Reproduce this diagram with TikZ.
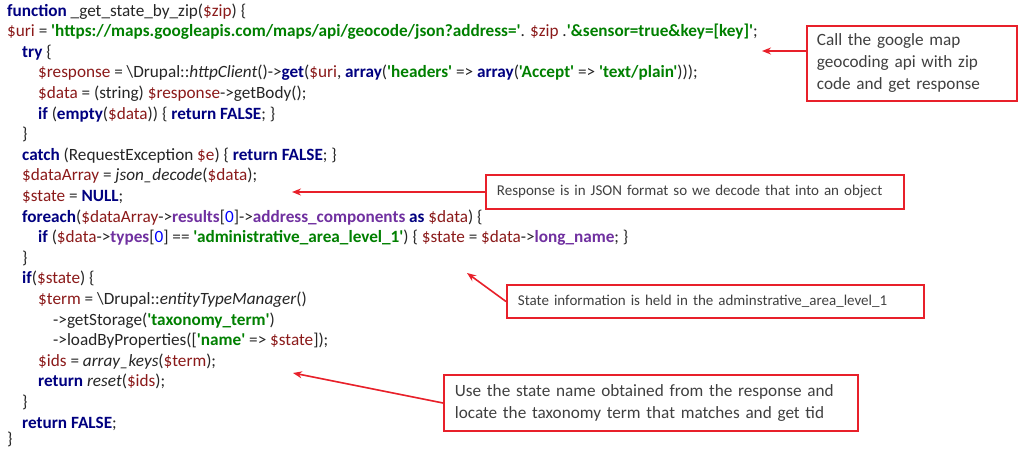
\documentclass[tikz,border=0pt]{standalone}
\usepackage{fontspec}
\newfontfamily\codefont{Carlito}
\usetikzlibrary{arrows.meta}
\definecolor{kwc}{HTML}{000080}
\definecolor{vrc}{HTML}{8B1A1A}
\definecolor{stc}{HTML}{008000}
\definecolor{prc}{HTML}{7030A0}
\definecolor{nmc}{HTML}{0000FF}
\definecolor{txc}{HTML}{262626}
\definecolor{boxred}{HTML}{E8202A}
\definecolor{notec}{HTML}{404040}
\newcommand\kw[1]{\textcolor{kwc}{\bfseries #1}}
\newcommand\vr[1]{\textcolor{vrc}{\$#1}}
\newcommand\st[1]{\textcolor{stc}{\bfseries #1}}
\newcommand\pr[1]{\textcolor{prc}{\bfseries #1}}
\newcommand\nm[1]{\textcolor{nmc}{#1}}
\newcommand\bs{\textbackslash}
\tikzset{
 code/.style={anchor=base west,inner sep=0pt,font=\codefont\fontsize{17.2}{20}\selectfont,text=txc},
 note/.style={draw=boxred,line width=1.8pt,text=notec,font=\codefont\fontsize{15}{20}\selectfont,align=left,anchor=north west,inner sep=0pt},
 bignote/.style={note,font=\codefont\fontsize{17.2}{22}\selectfont},
 arr/.style={draw=boxred,line width=1.6pt,-{Stealth[length=9pt,width=7pt]}}
}
\begin{document}
\begin{tikzpicture}[x=1pt,y=-1pt]
\useasboundingbox (0,0) rectangle (1024,453);
\fill[white] (0,0) rectangle (1024,453);
\def\L#1{\fpeval{16+20.6*#1}}
\node[code] (l0) at (7,\L0) {\kw{function} \_get\_state\_by\_zip(\vr{zip}) \{};
\node[code] (l1) at (7,\L1) {\vr{uri} = \st{'https://maps.googleapis.com/maps/api/geocode/json?address='}. \vr{zip} .\st{'\&sensor=true\&key=[key]'};};
\node[code] (l2) at (22,\L2) {\kw{try} \{};
\node[code] (l3) at (38,\L3) {\vr{response} = \bs Drupal::\textit{httpClient}()->\kw{get}(\vr{uri}, \kw{array}(\st{'headers'} => \kw{array}(\st{'Accept'} => \st{'text/plain'})));};
\node[code] (l4) at (38,\L4) {\vr{data} = (string) \vr{response}->getBody();};
\node[code] (l5) at (38,\L5) {\kw{if} (\kw{empty}(\vr{data})) \{ \kw{return FALSE}; \}};
\node[code] (l6) at (22,\L6) {\}};
\node[code] (l7) at (22,\L7) {\kw{catch} (RequestException \vr{e}) \{ \kw{return FALSE}; \}};
\node[code] (l8) at (22,\L8) {\vr{dataArray} = \textit{json\_decode}(\vr{data});};
\node[code] (l9) at (22,\L9) {\vr{state} = \kw{NULL};};
\node[code] (l10) at (22,\L{10}) {\kw{foreach}(\vr{dataArray}->\pr{results}[\nm{0}]->\pr{address\_components} \kw{as} \vr{data}) \{};
\node[code] (l11) at (38,\L{11}) {\kw{if} (\vr{data}->\pr{types}[\nm{0}] == \st{'administrative\_area\_level\_1'}) \{ \vr{state} = \vr{data}->\pr{long\_name}; \}};
\node[code] (l12) at (22,\L{12}) {\}};
\node[code] (l13) at (22,\L{13}) {\kw{if}(\vr{state}) \{};
\node[code] (l14) at (38,\L{14}) {\vr{term} = \bs Drupal::\textit{entityTypeManager}()};
\node[code] (l15) at (53,\L{15}) {->getStorage(\st{'taxonomy\_term'})};
\node[code] (l16) at (53,\L{16}) {->loadByProperties([\st{'name'} => \vr{state}]);};
\node[code] (l17) at (38,\L{17}) {\vr{ids} = \textit{array\_keys}(\vr{term});};
\node[code] (l18) at (38,\L{18}) {\kw{return} \textit{reset}(\vr{ids});};
\node[code] (l19) at (22,\L{19}) {\}};
\node[code] (l20) at (22,\L{20}) {\kw{return FALSE};};
\node[code] (l21) at (7,\L{20.8}) {\}};
% notes
\node[bignote,minimum width=209pt,minimum height=75pt,text width=190pt,inner xsep=10pt,inner ysep=4pt] (n1) at (806,25) {Call the google map\\geocoding api with zip\\code and get response};
\node[note,minimum width=418pt,minimum height=34pt,inner xsep=11pt,anchor=west,text width=396pt] (n2) at (485,192) {Response is in JSON format so we decode that into an object};
\node[note,minimum width=417pt,minimum height=33pt,inner xsep=11pt,anchor=west,text width=395pt] (n3) at (506,301.5) {State information is held in the adminstrative\_area\_level\_1};
\node[bignote,minimum width=414pt,minimum height=56pt,inner xsep=11pt,anchor=west,text width=392pt] (n4) at (443,403) {Use the state name obtained from the response and\\locate the taxonomy term that matches and get tid};
\coordinate (t1) at (762,51);
\coordinate (t2) at (292,192);
\coordinate (t3) at (467,273);
\coordinate (t4) at (293,373);
\draw[arr] (n1.west |- t1) -- (t1);
\draw[arr] (n2.west) -- (t2);
\draw[arr] (n3.west) -- (t3);
\draw[arr] (n4.west) -- (t4);
\end{tikzpicture}
\end{document}
